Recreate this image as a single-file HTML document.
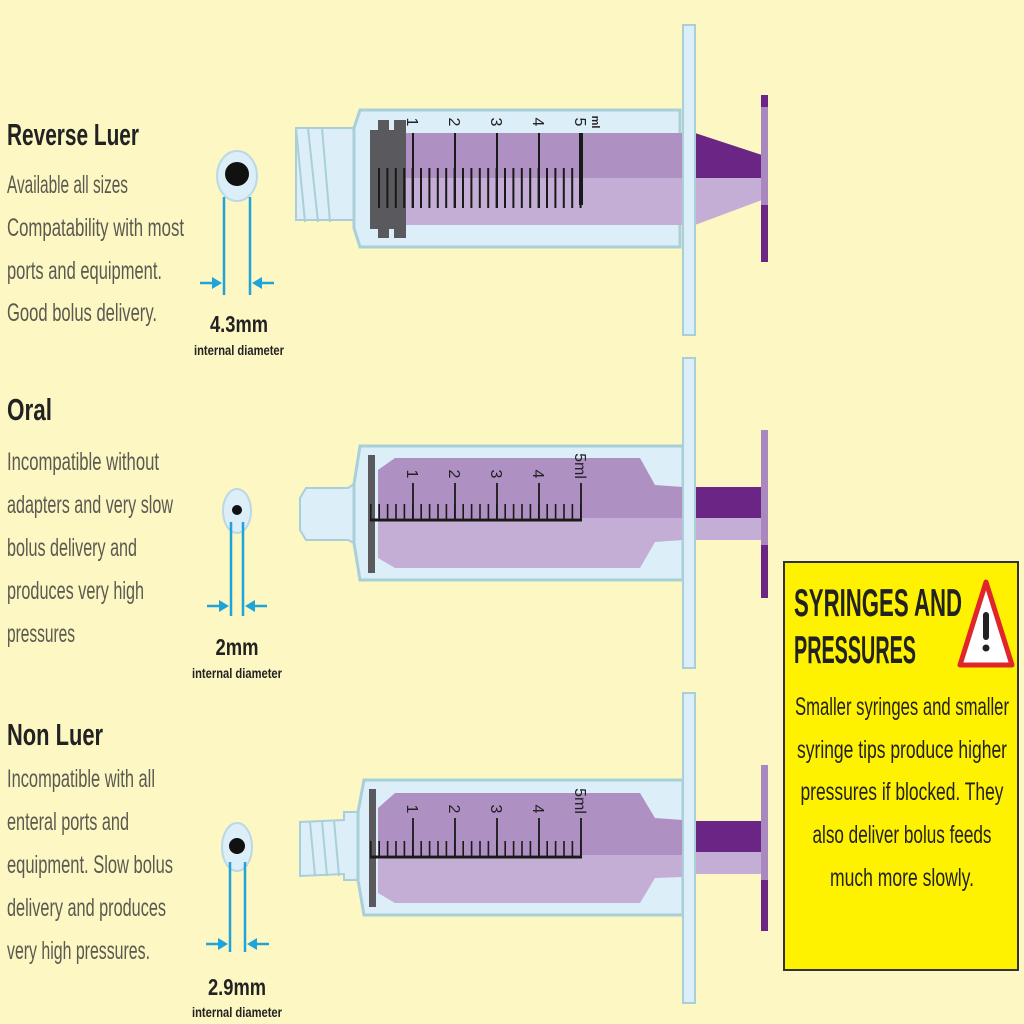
<!DOCTYPE html>
<html><head><meta charset="utf-8"><style>
html,body{margin:0;padding:0;background:#fdf7c3;}
svg{display:block;}
.t{font-family:"Liberation Sans Narrow","Liberation Sans",sans-serif;font-weight:bold;fill:#222;}
.b{font-family:"Liberation Sans Narrow","Liberation Sans",sans-serif;fill:#5a5a50;font-size:25px;}
.n{font-family:"Liberation Sans Narrow","Liberation Sans",sans-serif;fill:#222;font-size:14px;}
.y{font-family:"Liberation Sans Narrow","Liberation Sans",sans-serif;fill:#222;font-size:25px;}
</style></head><body>
<svg width="1024" height="1024" viewBox="0 0 1024 1024" xmlns="http://www.w3.org/2000/svg">
<rect width="1024" height="1024" fill="#fdf7c3"/>

<text class="t" x="7" y="145" font-size="31" textLength="132" lengthAdjust="spacingAndGlyphs">Reverse Luer</text>
<text class="b" x="7" y="193" textLength="121" lengthAdjust="spacingAndGlyphs">Available all sizes</text>
<text class="b" x="7" y="236" textLength="177" lengthAdjust="spacingAndGlyphs">Compatability with most</text>
<text class="b" x="7" y="279" textLength="155" lengthAdjust="spacingAndGlyphs">ports and equipment.</text>
<text class="b" x="7" y="321" textLength="150" lengthAdjust="spacingAndGlyphs">Good bolus delivery.</text>

<text class="t" x="7" y="420" font-size="31" textLength="45" lengthAdjust="spacingAndGlyphs">Oral</text>
<text class="b" x="7" y="470" textLength="152" lengthAdjust="spacingAndGlyphs">Incompatible without</text>
<text class="b" x="7" y="513" textLength="166" lengthAdjust="spacingAndGlyphs">adapters and very slow</text>
<text class="b" x="7" y="556" textLength="130" lengthAdjust="spacingAndGlyphs">bolus delivery and</text>
<text class="b" x="7" y="599" textLength="137" lengthAdjust="spacingAndGlyphs">produces very high</text>
<text class="b" x="7" y="642" textLength="68" lengthAdjust="spacingAndGlyphs">pressures</text>

<text class="t" x="7" y="745" font-size="31" textLength="96" lengthAdjust="spacingAndGlyphs">Non Luer</text>
<text class="b" x="7" y="787" textLength="148" lengthAdjust="spacingAndGlyphs">Incompatible with all</text>
<text class="b" x="7" y="830" textLength="122" lengthAdjust="spacingAndGlyphs">enteral ports and</text>
<text class="b" x="7" y="873" textLength="166" lengthAdjust="spacingAndGlyphs">equipment. Slow bolus</text>
<text class="b" x="7" y="916" textLength="159" lengthAdjust="spacingAndGlyphs">delivery and produces</text>
<text class="b" x="7" y="959" textLength="143" lengthAdjust="spacingAndGlyphs">very high pressures.</text>

<g stroke="#1fa3d8" stroke-width="2.5" fill="#1fa3d8">
 <ellipse cx="237" cy="176" rx="20" ry="25" fill="#dceef8" stroke="#bcd8e6" stroke-width="2"/>
 <circle cx="237" cy="174" r="12" fill="#111" stroke="none"/>
 <line x1="224" y1="197" x2="224" y2="295"/><line x1="250" y1="197" x2="250" y2="295"/>
 <line x1="200" y1="283" x2="214" y2="283"/><polygon points="222,283 212,277 212,289" stroke="none"/>
 <line x1="260" y1="283" x2="274" y2="283"/><polygon points="252,283 262,277 262,289" stroke="none"/>

 <ellipse cx="237" cy="511" rx="14" ry="22" fill="#dceef8" stroke="#bcd8e6" stroke-width="2"/>
 <circle cx="237" cy="510" r="5" fill="#111" stroke="none"/>
 <line x1="231" y1="522" x2="231" y2="616"/><line x1="243" y1="522" x2="243" y2="616"/>
 <line x1="207" y1="606" x2="221" y2="606"/><polygon points="229,606 219,600 219,612" stroke="none"/>
 <line x1="253" y1="606" x2="267" y2="606"/><polygon points="245,606 255,600 255,612" stroke="none"/>

 <ellipse cx="237" cy="847" rx="15" ry="24" fill="#dceef8" stroke="#bcd8e6" stroke-width="2"/>
 <circle cx="237" cy="846" r="8" fill="#111" stroke="none"/>
 <line x1="230" y1="862" x2="230" y2="952"/><line x1="245" y1="862" x2="245" y2="952"/>
 <line x1="206" y1="944" x2="220" y2="944"/><polygon points="228,944 218,938 218,950" stroke="none"/>
 <line x1="255" y1="944" x2="269" y2="944"/><polygon points="247,944 257,938 257,950" stroke="none"/>
</g>
<text class="t" x="239" y="332" font-size="23" text-anchor="middle" textLength="58" lengthAdjust="spacingAndGlyphs">4.3mm</text>
<text class="n" x="239" y="355" text-anchor="middle" font-weight="bold" textLength="90" lengthAdjust="spacingAndGlyphs">internal diameter</text>
<text class="t" x="237" y="655" font-size="23" text-anchor="middle" textLength="43" lengthAdjust="spacingAndGlyphs">2mm</text>
<text class="n" x="237" y="678" text-anchor="middle" font-weight="bold" textLength="90" lengthAdjust="spacingAndGlyphs">internal diameter</text>
<text class="t" x="237" y="995" font-size="23" text-anchor="middle" textLength="58" lengthAdjust="spacingAndGlyphs">2.9mm</text>
<text class="n" x="237" y="1017" text-anchor="middle" font-weight="bold" textLength="90" lengthAdjust="spacingAndGlyphs">internal diameter</text>

<!-- Syringe 1 -->
<g>
 <path d="M296,128 L354,128 L354,220 L296,220 Z" fill="#dceef8" stroke="#a9cfd9" stroke-width="2"/>
 <path d="M296,128 L305,222 M308,128 L318,222 M322,128 L330,222" stroke="#a9cfd9" stroke-width="2" fill="none"/>
 <path d="M354,128 L360,110 L680,110 L680,247 L360,247 L354,228 Z" fill="#dceef8" stroke="#a9cfd9" stroke-width="3"/>
 <rect x="405" y="133" width="278" height="45" fill="#ae91c2"/>
 <rect x="405" y="178" width="278" height="47" fill="#c5aed6"/>
 <rect x="370" y="120" width="36" height="118" fill="#5a5a5e"/>
 <rect x="370" y="120" width="8" height="10" fill="#dceef8"/><rect x="389" y="120" width="5" height="10" fill="#dceef8"/>
 <rect x="370" y="229" width="8" height="10" fill="#dceef8"/><rect x="389" y="229" width="5" height="10" fill="#dceef8"/>
 <line x1="378" y1="188" x2="582" y2="188" stroke="#1a1a1a" stroke-width="40" stroke-dasharray="2 6.4"/>
 <g stroke="#1a1a1a" stroke-width="2">
  <line x1="413" y1="133" x2="413" y2="208"/><line x1="455" y1="133" x2="455" y2="208"/><line x1="497" y1="133" x2="497" y2="208"/><line x1="539" y1="133" x2="539" y2="208"/>
 </g>
 <rect x="579" y="133" width="4" height="72" fill="#1a1a1a"/>
 <g font-family="Liberation Sans, sans-serif" font-size="16" fill="#222">
  <text transform="translate(407,122) rotate(90)" text-anchor="middle">1</text>
  <text transform="translate(449,122) rotate(90)" text-anchor="middle">2</text>
  <text transform="translate(491,122) rotate(90)" text-anchor="middle">3</text>
  <text transform="translate(533,122) rotate(90)" text-anchor="middle">4</text>
  <text transform="translate(575,122) rotate(90)" text-anchor="middle">5</text>
  <text transform="translate(592,122) rotate(90)" text-anchor="middle" font-size="11" font-weight="bold">ml</text>
 </g>
 <path d="M695,133 L762,155 L762,178 L695,178 Z" fill="#6a2585"/>
 <path d="M695,178 L762,178 L762,200 L695,225 Z" fill="#c5aed6"/>
 <rect x="683" y="25" width="12" height="310" fill="#dceef8" stroke="#a9cfd9" stroke-width="2"/>
 <rect x="761" y="95" width="7" height="167" fill="#a988c0"/>
 <rect x="761" y="95" width="7" height="12" fill="#6a2585"/><rect x="761" y="205" width="7" height="57" fill="#6a2585"/>
</g>

<!-- Syringe 2 -->
<g>
 <path d="M306,488 L348,488 L354,484 L354,543 L348,540 L306,540 L300,530 L300,498 Z" fill="#dceef8" stroke="#a9cfd9" stroke-width="2"/>
 <path d="M354,484 L360,446 L683,446 L683,580 L360,580 L354,543 Z" fill="#dceef8" stroke="#a9cfd9" stroke-width="3"/>
 <path d="M378,518 L378,470 L395,458 L640,458 L655,485 L683,487 L683,518 Z" fill="#ae91c2"/>
 <path d="M378,518 L683,518 L683,540 L655,542 L640,568 L395,568 L378,558 Z" fill="#c5aed6"/>
 <rect x="368" y="455" width="7" height="118" fill="#5a5a5e"/>
 <line x1="370" y1="512" x2="582" y2="512" stroke="#1a1a1a" stroke-width="16" stroke-dasharray="1.6 6.8"/>
 <line x1="370" y1="520" x2="582" y2="520" stroke="#1a1a1a" stroke-width="3"/>
 <g stroke="#1a1a1a" stroke-width="1.8">
  <line x1="413" y1="483" x2="413" y2="520"/><line x1="455" y1="483" x2="455" y2="520"/><line x1="497" y1="483" x2="497" y2="520"/><line x1="539" y1="483" x2="539" y2="520"/><line x1="581" y1="483" x2="581" y2="520"/>
 </g>
 <g font-family="Liberation Sans, sans-serif" font-size="16" fill="#222">
  <text transform="translate(407,474) rotate(90)" text-anchor="middle">1</text>
  <text transform="translate(449,474) rotate(90)" text-anchor="middle">2</text>
  <text transform="translate(491,474) rotate(90)" text-anchor="middle">3</text>
  <text transform="translate(533,474) rotate(90)" text-anchor="middle">4</text>
  <text transform="translate(575,466) rotate(90)" text-anchor="middle">5ml</text>
 </g>
 <rect x="695" y="487" width="67" height="31" fill="#6a2585"/>
 <rect x="695" y="518" width="67" height="22" fill="#c5aed6"/>
 <rect x="683" y="358" width="12" height="310" fill="#dceef8" stroke="#a9cfd9" stroke-width="2"/>
 <rect x="761" y="430" width="7" height="168" fill="#a988c0"/>
 <rect x="761" y="545" width="7" height="53" fill="#6a2585"/>
</g>

<!-- Syringe 3 -->
<g>
 <path d="M300,822 L344,820 L344,812 L358,812 L358,880 L344,880 L344,874 L300,876 Z" fill="#dceef8" stroke="#a9cfd9" stroke-width="2"/>
 <path d="M310,822 L315,876 M322,821 L327,876 M334,820 L339,876" stroke="#a9cfd9" stroke-width="2" fill="none"/>
 <path d="M358,812 L364,780 L683,780 L683,915 L364,915 L358,880 Z" fill="#dceef8" stroke="#a9cfd9" stroke-width="3"/>
 <path d="M378,855 L378,808 L395,793 L640,793 L655,818 L683,820 L683,855 Z" fill="#ae91c2"/>
 <path d="M378,855 L683,855 L683,877 L655,878 L640,903 L395,903 L378,893 Z" fill="#c5aed6"/>
 <rect x="369" y="789" width="7" height="118" fill="#5a5a5e"/>
 <line x1="370" y1="849" x2="582" y2="849" stroke="#1a1a1a" stroke-width="16" stroke-dasharray="1.6 6.8"/>
 <line x1="370" y1="857" x2="582" y2="857" stroke="#1a1a1a" stroke-width="3"/>
 <g stroke="#1a1a1a" stroke-width="1.8">
  <line x1="413" y1="818" x2="413" y2="857"/><line x1="455" y1="818" x2="455" y2="857"/><line x1="497" y1="818" x2="497" y2="857"/><line x1="539" y1="818" x2="539" y2="857"/><line x1="581" y1="818" x2="581" y2="857"/>
 </g>
 <g font-family="Liberation Sans, sans-serif" font-size="16" fill="#222">
  <text transform="translate(407,809) rotate(90)" text-anchor="middle">1</text>
  <text transform="translate(449,809) rotate(90)" text-anchor="middle">2</text>
  <text transform="translate(491,809) rotate(90)" text-anchor="middle">3</text>
  <text transform="translate(533,809) rotate(90)" text-anchor="middle">4</text>
  <text transform="translate(575,801) rotate(90)" text-anchor="middle">5ml</text>
 </g>
 <rect x="695" y="821" width="67" height="31" fill="#6a2585"/>
 <rect x="695" y="852" width="67" height="22" fill="#c5aed6"/>
 <rect x="683" y="693" width="12" height="310" fill="#dceef8" stroke="#a9cfd9" stroke-width="2"/>
 <rect x="761" y="765" width="7" height="166" fill="#a988c0"/>
 <rect x="761" y="880" width="7" height="51" fill="#6a2585"/>
</g>

<rect x="784" y="562" width="234" height="408" fill="#fff200" stroke="#333" stroke-width="2"/>
<text class="t" x="794" y="616" font-size="39" font-weight="normal" textLength="168" lengthAdjust="spacingAndGlyphs">SYRINGES AND</text>
<text class="t" x="794" y="663" font-size="39" font-weight="normal" textLength="122" lengthAdjust="spacingAndGlyphs">PRESSURES</text>
<polygon points="986,582 1012,665 960,665" fill="#fff" stroke="#e0262a" stroke-width="5" stroke-linejoin="round"/>
<rect x="983" y="612" width="6" height="28" rx="3" fill="#222"/>
<circle cx="986" cy="648" r="3.5" fill="#222"/>
<g class="y" text-anchor="middle">
 <text x="902" y="715" textLength="214" lengthAdjust="spacingAndGlyphs">Smaller syringes and smaller</text>
 <text x="902" y="758" textLength="210" lengthAdjust="spacingAndGlyphs">syringe tips produce higher</text>
 <text x="902" y="800" textLength="203" lengthAdjust="spacingAndGlyphs">pressures if blocked. They</text>
 <text x="902" y="843" textLength="179" lengthAdjust="spacingAndGlyphs">also deliver bolus feeds</text>
 <text x="902" y="886" textLength="144" lengthAdjust="spacingAndGlyphs">much more slowly.</text>
</g>
</svg>
</body></html>
